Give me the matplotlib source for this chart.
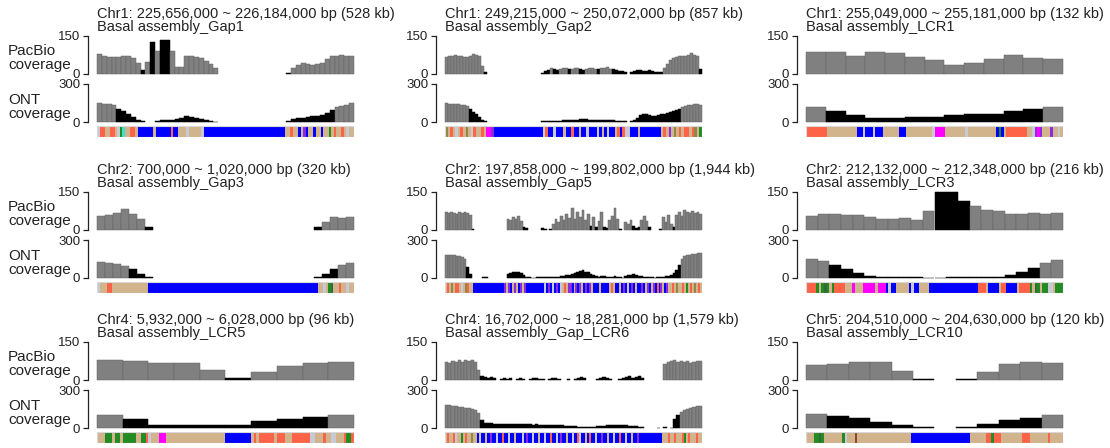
import numpy as np
import matplotlib
matplotlib.use("Agg")
import matplotlib.pyplot as plt

plt.rcParams['font.family'] = ['Liberation Sans', 'DejaVu Sans']

W, H, DPI = 1110, 448, 100

# ---- region descriptions -------------------------------------------------
regions = [
    "Chr1: 225,656,000 ~ 226,184,000 bp (528 kb)",
    "Chr1: 249,215,000 ~ 250,072,000 bp (857 kb)",
    "Chr1: 255,049,000 ~ 255,181,000 bp (132 kb)",
    "Chr2: 700,000 ~ 1,020,000 bp (320 kb)",
    "Chr2: 197,858,000 ~ 199,802,000 bp (1,944 kb)",
    "Chr2: 212,132,000 ~ 212,348,000 bp (216 kb)",
    "Chr4: 5,932,000 ~ 6,028,000 bp (96 kb)",
    "Chr4: 16,702,000 ~ 18,281,000 bp (1,579 kb)",
    "Chr5: 204,510,000 ~ 204,630,000 bp (120 kb)",
]
names = [
    "Basal assembly_Gap1", "Basal assembly_Gap2", "Basal assembly_LCR1",
    "Basal assembly_Gap3", "Basal assembly_Gap5", "Basal assembly_LCR3",
    "Basal assembly_LCR5", "Basal assembly_Gap_LCR6", "Basal assembly_LCR10",
]

# ---- PacBio coverage per bin ---------------------------------------------
pac_gap1 = [78, 72, 66, 68, 68, 70, 72, 65, 44, 16, 46, 125, 92, 136, 136, 92, 26, 26,
            71, 70, 66, 62, 52, 40, 22,
            0, 0, 0, 0, 0, 0, 0, 0, 0, 0, 0, 0, 0, 0,
            4, 22, 34, 44, 40, 36, 38, 45, 58, 72, 72, 74, 72, 70]
pac_gap2 = [68, 70, 72, 74, 72, 70, 68, 68, 70, 78, 75, 72, 30, 8,
            0, 0, 0, 0, 0, 0, 0, 0, 0, 0, 0, 0, 0, 0, 0, 0, 0, 0,
            5, 10, 16, 22, 18, 14, 20, 25, 22, 18, 20, 24, 22, 18, 16,
            20, 22, 24, 20, 18, 22, 25, 26, 20, 18, 15, 12, 10, 8,
            0, 6, 12, 16, 14, 10, 12, 15, 10, 8, 6, 8,
            25, 40, 55, 62, 68, 72, 70, 72, 76, 82, 75, 70, 18]
pac_lcr1 = [87, 85, 71, 85, 81, 68, 57, 37, 44, 60, 74, 64, 60]
pac_gap3 = [56, 58, 68, 83, 65, 45, 10,
            0, 0, 0, 0, 0, 0, 0, 0, 0, 0, 0, 0, 0, 0, 0, 0, 0, 0, 0, 0,
            10, 33, 53, 47, 50]
pac_gap5 = [70, 66, 72, 68, 64, 70, 67, 72, 66, 60,
            3, 0, 0, 0, 0, 0, 0, 0, 0, 0, 0, 0, 0,
            45, 38, 50, 42, 55, 35, 12, 8,
            0, 0, 0, 0, 0,
            6, 3, 0, 4,
            22, 45, 30, 55, 38, 62, 48,
            85, 45, 70, 52, 78, 40, 65, 14,
            50, 12, 35, 70, 10,
            8, 40, 55, 85, 45,
            5, 0,
            30, 22, 38, 15,
            8, 12,
            40, 55, 35, 10,
            0, 0, 0, 3,
            50, 30, 60, 25,
            10,
            60, 72, 55, 78, 70, 66, 74, 68, 72, 64]
pac_lcr3 = [56, 63, 62, 58, 59, 51, 43, 44, 48, 40, 74, 150, 150, 116, 94, 78, 74,
            64, 62, 66, 63, 67]
pac_lcr5 = [77, 74, 66, 68, 40, 6, 32, 55, 68, 72]
pac_lcr6 = [72, 68, 74, 70, 78, 72, 80, 75, 78, 70, 40, 15,
            12, 8, 10, 6, 0, 5, 8, 4, 6, 0,
            3, 7, 5, 0, 4, 6, 8, 5, 3, 0,
            2, 6, 9, 5, 0, 0, 3, 0, 4, 7,
            10, 6, 0, 0, 0, 5, 8, 12, 6, 3,
            0, 0, 4, 8, 10, 14, 9, 12, 16, 6,
            0, 0, 0, 0, 0, 0,
            62, 70, 74, 78, 72, 76, 70, 74, 68, 72, 76, 74]
pac_lcr10 = [58, 62, 72, 70, 36, 3, 0, 4, 32, 62, 72, 68]

# ---- ONT coverage per bin ------------------------------------------------
ont_gap1 = [148, 145, 140, 135, 100, 85, 65, 42, 15, 5, 0, 0,
            10, 12, 15, 18, 22, 30, 45, 42, 35, 25, 18, 10, 3,
            0, 0, 0, 0, 0, 0, 0, 0, 0, 0, 0, 0, 0, 0,
            10, 22, 30, 35, 40, 45, 50, 58, 68, 92, 122, 130, 138, 148]
ont_gap2 = [148, 146, 144, 142, 140, 138, 135, 128, 100, 80, 62, 40, 18, 5,
            0, 0, 0, 0, 0, 0, 0, 0, 0, 0, 0, 0, 0, 0, 0, 0, 0, 0,
            4, 6, 8, 9, 10, 10, 11, 12, 13, 14, 15, 16, 18, 20, 22,
            20, 18, 16, 15, 15, 14, 14, 13, 12, 12, 11, 10, 9, 8,
            0, 6, 15, 30, 55, 65, 60, 52, 48, 50, 55, 60,
            65, 70, 78, 85, 92, 100, 118, 125, 132, 138, 142, 140, 135]
ont_lcr1 = [115, 88, 55, 30, 34, 40, 42, 52, 60, 62, 85, 100, 115]
ont_gap3 = [130, 118, 108, 92, 68, 35, 8,
            0, 0, 0, 0, 0, 0, 0, 0, 0, 0, 0, 0, 0, 0, 0, 0, 0, 0, 0, 0,
            5, 35, 75, 105, 115]
ont_gap5 = [185, 182, 180, 178, 175, 172, 165, 150, 90, 30,
            0, 0, 0, 0, 4, 4, 0, 0, 0, 0, 0, 0, 0,
            30, 42, 48, 50, 44, 38, 25, 10,
            4, 3, 3, 4, 5,
            5, 6, 8, 10,
            8, 6, 10, 12, 15, 20, 25,
            35, 42, 48, 55, 60, 50, 45, 35,
            20, 12, 10, 15, 12,
            10, 8, 6, 12, 8,
            4, 3,
            15, 20, 25, 28,
            22, 18,
            12, 10, 8, 6,
            4, 3, 5, 6,
            8, 12, 18, 25,
            40,
            60, 100, 150, 170, 180, 185, 190, 192, 195, 195]
ont_lcr3 = [150, 134, 102, 75, 40, 13, 6, 5, 4, 4, 3, 3, 4, 4, 4, 5, 10, 21, 48, 80,
            120, 139]
ont_lcr5 = [105, 70, 25, 22, 22, 20, 52, 70, 85, 105]
ont_lcr6 = [185, 180, 176, 172, 168, 165, 160, 155, 150, 140, 120, 60, 40,
            38, 36, 35, 34, 33, 32, 34, 33, 31, 30,
            30, 29, 28, 28, 27, 28, 26, 25, 24, 25,
            26, 24, 22, 20, 19, 18, 16, 14, 10, 6,
            5, 4, 5, 8, 12, 15, 18, 20, 22, 24,
            25, 24, 22, 20, 18, 15, 12, 8, 4,
            0, 0, 0, 0, 3, 0,
            5, 0, 3, 70, 100, 125, 140, 150, 160, 165, 170, 172]
ont_lcr10 = [110, 95, 78, 50, 20, 4, 0, 4, 30, 62, 80, 105]

pacbio = [pac_gap1, pac_gap2, pac_lcr1, pac_gap3, pac_gap5, pac_lcr3,
          pac_lcr5, pac_lcr6, pac_lcr10]
ont = [ont_gap1, ont_gap2, ont_lcr1, ont_gap3, ont_gap5, ont_lcr3,
       ont_lcr5, ont_lcr6, ont_lcr10]

# bins outside these limits are flagged (drawn black)
pac_low, pac_high = 20, 110
ont_low = [105, 110, 108, 80, 110, 110, 95, 110, 100]

# ---- repeat annotation tracks (one letter per equal-width slot) ----------
track_gap1 = ("LRRTTRRTLGCTTRRT" "BBBBBB" "T" "BBBBBB" "R" "BB" "TTTLTTTTT" "L"
              "BBBBBBBBBBBBBBBBBBBBBBBBBBBBBBBB" "TTRTTBTPBTTBTTBTTGTRTTRTLTT")
track_gap2 = ("OTRTLTRTOTLRTTRT" "MM" "P" "BBBBBBBBBBBBBBBBBBB"
              "LRBBLBBBTBBRBBTBBLBBBLBTBLBBTRBR" "LL" "BBBTBBBBBBBB" "TRTPTOTRTRRTROTG")
track_lcr1 = ("RRRRRRRR" "TTTTTTTTTTTT" "BBLBBBLBBB" "TTTTTT" "BBB" "TTTTTTTTTT" "L"
              "MMMM" "TTTTTTTT" "L" "TTTTTTTTTTT" "BGB" "T" "RRRRRRRR" "TT" "L" "PMP"
              "TTT" "P" "TTLT")
track_gap3 = ("L" "TTT" "RR" "TTTTTTTTTTTTTT"
              "BBBBBBBBBBBBBBBBBBBBBBBBBBBBBBBBBBBBBBBBBBBBBBBBBBBBBBBBBBBBBBBBBB"
              "TTLTGgTTRTTLTT")
track_gap5 = ("TRTOTRRTLTORTT" "BBBBBBBBBBBBBBBB" "PTPBTPTBPTP" "BBBBBBBB" "BLBPBLBPBL"
              "TRTP" "PBTPBPTBPBPT" "BBBTBBBB" "TRT" "BB" "TBPBLBPBTBBPBT"
              "PBTPBRBPTBPT" "TRTOTTRTGTRTOTRT")
track_lcr3 = ("RRRR" "GTGgGTG" "RRRR" "TTT" "M" "TTT" "MMMMM" "T" "MMM" "BLBB" "TTTTT"
              "BLBB" "TTTT" "BBBBBBBBBBBBBBBBBBB" "RRR" "T" "BBBB" "T" "RR" "BBBB" "T"
              "RRRR" "GTgGTGG" "LL" "T" "GGG")
track_lcr5 = ("TTT" "GGG" "T" "GG" "T" "GGGGG" "TT" "GG" "RL" "TTT" "MMM"
              "TTTTTTTTTTTTTTTTTTTTTTT" "BBBBBBBBBB" "T" "R" "T" "RRRRRR" "T" "RRR"
              "TTT" "RRRRRRR" "LL" "TTT" "R" "TT" "LL" "TTT" "R" "GG" "R")
track_lcr6 = ("TRTTRLTTGTRTTOTT"
              "BLBBTBBPBB" "LBBRBBLBBT" "BBBLBPBBLB" "BTBBLBBRBB" "LBPBBTBBLB"
              "BRLBBTBRBB" "LBBPBBTBBL" "BBRBBLBBTB" "BPB" "BBBBBBBBBBB"
              "TTTRTTRTTTRGTRTTTRTT")
track_lcr10 = ("TTT" "GGgG" "TTTTTTT" "G" "L" "TTT" "K" "TTTTTTTTTTTTTTTTTTTTT"
               "BBBBBBBBBBBBBBBBBBBBBBB" "TTTTTT" "RR" "G" "RRR" "TTTTTTTT" "RRR"
               "TTTTTTT" "R" "TTTTT")
tracks = [track_gap1, track_gap2, track_lcr1, track_gap3, track_gap5, track_lcr3,
          track_lcr5, track_lcr6, track_lcr10]

track_colors = {
    'B': '#0000FF', 'T': '#D2B48C', 'R': '#FF6347', 'M': '#FF00FF',
    'G': '#228B22', 'g': '#2F6B3A', 'L': '#C9C9D6', 'P': '#8A2BE2',
    'C': '#40E0D0', 'O': '#8E8A45', 'K': '#8B4A2B',
}

GRAY = '#808080'
INK = '#222222'

# ---- layout (pixels) -----------------------------------------------------
col_left = [97, 445, 806]
plot_w = 257
row_top = [36, 192, 342]
PAC_H, ONT_OFF, ONT_H, TR_OFF, TR_H = 38, 48, 38, 90, 11

fig = plt.figure(figsize=(W / DPI, H / DPI), dpi=DPI)


def px_axes(x0, y0, w, h):
    return fig.add_axes([x0 / W, 1 - (y0 + h) / H, w / W, h / H])


def coverage(ax, vals, ymax, flagged):
    vals = np.asarray(vals, dtype=float)
    x = np.arange(len(vals))
    keep = vals > 0
    cols = np.where(flagged, 'black', GRAY)
    edges = np.where(flagged, 'black', '#646464')
    ax.bar(x[keep], vals[keep], width=1.0, align='edge', color=cols[keep],
           edgecolor=edges[keep], linewidth=0.35, clip_on=False)
    ax.set_xlim(0, len(vals))
    ax.set_ylim(0, ymax)
    for s in ('top', 'right', 'bottom'):
        ax.spines[s].set_visible(False)
    ax.spines['left'].set_position(('outward', 6.5))
    ax.spines['left'].set_bounds(0, ymax)
    ax.spines['left'].set_color(INK)
    ax.spines['left'].set_linewidth(0.9)
    ax.set_xticks([])
    ax.set_yticks([0, ymax])
    ax.set_yticklabels(['0', str(ymax)])
    ax.tick_params(axis='y', length=3.6, width=0.9, pad=2, labelsize=9.5,
                   colors=INK)
    ax.patch.set_visible(False)


def repeat_track(ax, code):
    n = len(code)
    start = 0
    for i in range(1, n + 1):
        if i == n or code[i] != code[start]:
            ax.add_patch(plt.Rectangle((start, 0), i - start, 1,
                                       facecolor=track_colors[code[start]],
                                       edgecolor='none'))
            start = i
    ax.add_patch(plt.Rectangle((0, 0), n, 1, facecolor='none',
                               edgecolor='#d8d8d8', linewidth=0.8))
    ax.set_xlim(0, n)
    ax.set_ylim(0, 1)
    ax.axis('off')


for k in range(9):
    r, c = divmod(k, 3)
    L, T = col_left[c], row_top[r]

    pv = np.asarray(pacbio[k])
    ax_p = px_axes(L, T, plot_w, PAC_H)
    coverage(ax_p, pv, 150, (pv < pac_low) | (pv > pac_high))

    ov = np.asarray(ont[k])
    ax_o = px_axes(L, T + ONT_OFF, plot_w, ONT_H)
    coverage(ax_o, ov, 300, ov < ont_low[k])

    ax_t = px_axes(L, T + TR_OFF, plot_w, TR_H)
    repeat_track(ax_t, tracks[k])

    fig.text(L / W, 1 - (T - 22) / H, regions[k], ha='left', va='center',
             fontsize=10.5, color=INK)
    fig.text(L / W, 1 - (T - 9) / H, names[k], ha='left', va='center',
             fontsize=10.5, color=INK)

    if c == 0:
        fig.text(8 / W, 1 - (T + 22) / H, "PacBio\ncoverage", ha='left',
                 va='center', fontsize=11, linespacing=1.0, color=INK)
        fig.text(8 / W, 1 - (T + 71) / H, "ONT\ncoverage", ha='left',
                 va='center', fontsize=11, linespacing=1.0, color=INK)

fig.savefig("out.png", dpi=DPI)
